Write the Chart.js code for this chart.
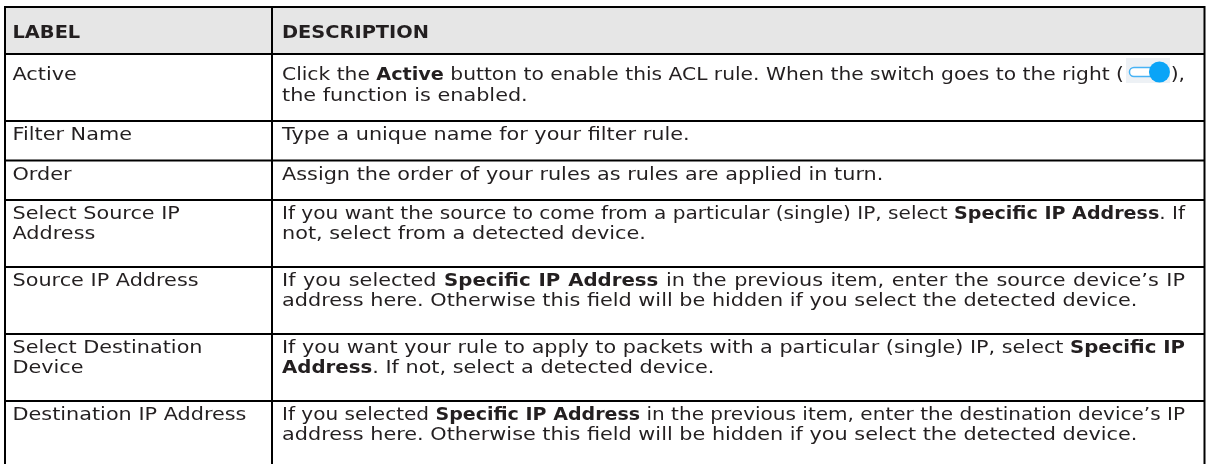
<!DOCTYPE html>
<html><head><meta charset="utf-8">
<script src="https://cdn.jsdelivr.net/npm/chart.js@4.4.1/dist/chart.umd.min.js"></script>
<style>html,body{margin:0;padding:0;background:#fff;overflow:hidden}canvas{display:block}</style>
</head><body>
<canvas id="c" width="1206" height="464"></canvas>
<script>
// ---- data ----
const headers = ['LABEL', 'DESCRIPTION'];
const labels = [
  ['Active'],
  ['Filter Name'],
  ['Order'],
  ['Select Source IP', 'Address'],
  ['Source IP Address'],
  ['Select Destination', 'Device'],
  ['Destination IP Address']
];
const descriptions = [
  ['Click the **Active** button to enable this ACL rule. When the switch goes to the right ({toggle}),', 'the function is enabled.'],
  ['Type a unique name for your filter rule.'],
  ['Assign the order of your rules as rules are applied in turn.'],
  ['If you want the source to come from a particular (single) IP, select **Specific IP Address**. If', 'not, select from a detected device.'],
  ['If you selected **Specific IP Address** in the previous item, enter the source device\u2019s IP', 'address here. Otherwise this field will be hidden if you select the detected device.'],
  ['If you want your rule to apply to packets with a particular (single) IP, select **Specific IP**', '**Address**. If not, select a detected device.'],
  ['If you selected **Specific IP Address** in the previous item, enter the destination device\u2019s IP', 'address here. Otherwise this field will be hidden if you select the detected device.']
];

// ---- layout / style ----
const W = 1206, H = 464;
const FONT = '"DejaVu Sans", sans-serif';
const TEXT = '#231f20';
const BODY_PX = 17, HEAD_PX = 18;
const tableLeft = 5, colSplit = 272, tableRight = 1204.5, tableTop = 7;
const headerH = 47, oneLineH = 39.5, extraLineH = 27.5;
const padLabel = 12.5, padDesc = 282, descRight = 1185;
const baseOffset = 19, linePitch = 20, iconBaseOffset = 26, iconLinePitch = 21;
const boldFactor = 0.95, iconW = 48;
// font-fitting references (natural text widths measured on the reference)
const bodyRefs = [
  {text: 'Type a unique name for your filter rule.', width: 394},
  {text: 'Assign the order of your rules as rules are applied in turn.', width: 572},
  {text: 'address here. Otherwise this field will be hidden if you select the detected device.', width: 892},
  {text: 'not, select from a detected device.', width: 374},
  {text: 'the function is enabled.', width: 242}
];
const headRef = {text: 'DESCRIPTION', width: 147};

// row boundaries derived from line counts
const rowLineCounts = labels.map((l, i) => Math.max(l.length, descriptions[i].length));
const rowTops = [tableTop, tableTop + headerH];
rowLineCounts.forEach(n => rowTops.push(rowTops[rowTops.length - 1] + oneLineH + (n - 1) * extraLineH));

function tokenize(line) {
  const toks = [];
  line.split('**').forEach((seg, idx) => {
    const bold = idx % 2 === 1;
    seg.split('{toggle}').forEach((piece, j) => {
      if (j > 0) toks.push({type: 'icon'});
      piece.split(/( )/).forEach(t => {
        if (t === '') return;
        toks.push({type: t === ' ' ? 'space' : 'word', text: t, bold});
      });
    });
  });
  return toks;
}

function drawLine(ctx, line, x, y, s, size, justifyW) {
  const toks = tokenize(line);
  const fontOf = b => (b ? 'bold ' : '') + size + 'px ' + FONT;
  const scaleOf = b => b ? s * boldFactor : s;
  let natural = 0, spaces = 0;
  toks.forEach(t => {
    if (t.type === 'icon') { t.w = iconW; }
    else { ctx.font = fontOf(t.bold); t.w = ctx.measureText(t.text).width * scaleOf(t.bold); }
    if (t.type === 'space') spaces++;
    natural += t.w;
  });
  let extra = 0, squeeze = 1;
  if (justifyW) {
    if (natural < justifyW && spaces) extra = (justifyW - natural) / spaces;
    else if (natural > justifyW) squeeze = justifyW / natural;
  }
  let cx = x;
  toks.forEach(t => {
    if (t.type === 'space') { cx += t.w * squeeze + extra; return; }
    if (t.type === 'icon') {
      const x0 = cx + 2;
      ctx.fillStyle = '#edf1f5';
      ctx.fillRect(x0, y - 22, 44, 25);
      ctx.beginPath();
      ctx.roundRect(x0 + 3.5, y - 12.5, 27, 9, 4.5);
      ctx.fillStyle = '#ffffff'; ctx.fill();
      ctx.lineWidth = 1.5; ctx.strokeStyle = '#47b3f5'; ctx.stroke();
      ctx.beginPath();
      ctx.arc(x0 + 33.5, y - 8, 10.5, 0, Math.PI * 2);
      ctx.fillStyle = '#0aa4f7'; ctx.fill();
      cx += t.w * squeeze;
      return;
    }
    ctx.font = fontOf(t.bold);
    ctx.save();
    ctx.translate(cx, y);
    ctx.scale(scaleOf(t.bold) * squeeze, 1);
    ctx.fillStyle = TEXT;
    ctx.fillText(t.text, 0, 0);
    ctx.restore();
    cx += t.w * squeeze;
  });
}

const tablePlugin = {
  id: 'table',
  afterDraw(chart) {
    const ctx = chart.ctx;
    const xs = chart.scales.x, ys = chart.scales.y;
    const px = v => xs.getPixelForValue(v), py = v => ys.getPixelForValue(v);
    ctx.save();
    ctx.textBaseline = 'alphabetic';
    ctx.textAlign = 'left';
    // header background
    ctx.fillStyle = '#e6e6e6';
    ctx.fillRect(px(tableLeft), py(rowTops[0]), px(tableRight) - px(tableLeft), py(rowTops[1]) - py(rowTops[0]));
    // scale factors
    ctx.font = BODY_PX + 'px ' + FONT;
    const sBody = bodyRefs.reduce((a, r) => a + r.width, 0) /
                  bodyRefs.reduce((a, r) => a + ctx.measureText(r.text).width, 0);
    ctx.font = 'bold ' + HEAD_PX + 'px ' + FONT;
    const sHead = headRef.width / ctx.measureText(headRef.text).width / boldFactor;
    // header text
    drawLine(ctx, '**' + headers[0] + '**', px(padLabel), py(rowTops[0] + 31), sHead, HEAD_PX, 0);
    drawLine(ctx, '**' + headers[1] + '**', px(padDesc), py(rowTops[0] + 31), sHead, HEAD_PX, 0);
    // body rows
    labels.forEach((lab, i) => {
      const top = rowTops[i + 1];
      const desc = descriptions[i];
      const hasIcon = desc.some(l => l.includes('{toggle}'));
      const b0 = top + (hasIcon ? iconBaseOffset : baseOffset);
      const step = hasIcon ? iconLinePitch : linePitch;
      lab.forEach((l, k) => drawLine(ctx, l, px(padLabel), py(b0 + k * step), sBody, BODY_PX, 0));
      desc.forEach((l, k) => drawLine(ctx, l, px(padDesc), py(b0 + k * step), sBody, BODY_PX,
        k < desc.length - 1 ? px(descRight) - px(padDesc) : 0));
    });
    // grid lines
    ctx.strokeStyle = '#000';
    ctx.lineWidth = 2;
    ctx.beginPath();
    rowTops.forEach(t => {
      ctx.moveTo(px(tableLeft) - 1, py(t));
      ctx.lineTo(px(tableRight) + 1, py(t));
    });
    [tableLeft, colSplit, tableRight].forEach(x => {
      ctx.moveTo(px(x), py(tableTop));
      ctx.lineTo(px(x), py(rowTops[rowTops.length - 1]));
    });
    ctx.stroke();
    ctx.restore();
  }
};

new Chart(document.getElementById('c'), {
  type: 'scatter',
  data: { datasets: [{ data: rowTops.map(t => ({x: tableLeft, y: t})), pointRadius: 0, showLine: false }] },
  options: {
    responsive: false, animation: false, devicePixelRatio: 1,
    layout: { padding: 0 },
    events: [],
    plugins: { legend: { display: false }, tooltip: { enabled: false } },
    scales: {
      x: { type: 'linear', min: 0, max: W, display: false },
      y: { type: 'linear', min: 0, max: H, reverse: true, display: false }
    }
  },
  plugins: [tablePlugin]
});
</script>
</body></html>
